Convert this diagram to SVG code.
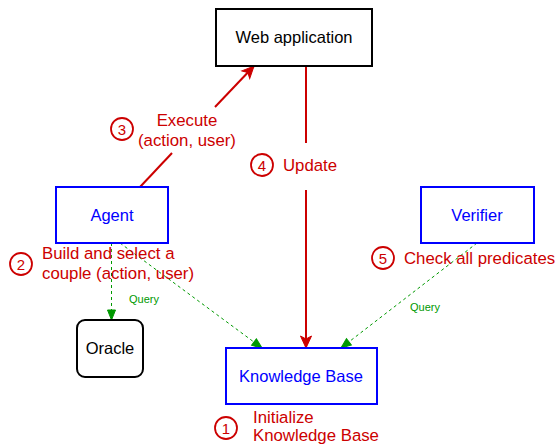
<svg xmlns="http://www.w3.org/2000/svg" width="555" height="445" viewBox="0 0 555 445">
<defs>
<style>
text{font-family:"Liberation Sans",Arial,sans-serif}
.node{fill:#fff;stroke-width:2}
.blue{stroke:#0000FF}
.black{stroke:#000}
.nl{font-size:16.5px;text-anchor:middle}
.red{fill:#CC0000;font-size:16.8px}
.num{fill:#CC0000;font-size:15px;text-anchor:middle}
.circ{fill:none;stroke:#CC0000;stroke-width:1.8}
.rl{stroke:#CC0000;stroke-width:2;fill:none}
.gl{stroke:#009900;stroke-width:1;stroke-dasharray:3 3;fill:none}
.q{fill:#009900;font-size:11px}
</style>
<marker id="ra" markerUnits="userSpaceOnUse" markerWidth="14" markerHeight="14" viewBox="0 0 14 14" refX="13" refY="7" orient="auto">
<path d="M1,1.5 L13,7 L1,12.5 L4,7 Z" fill="#CC0000" stroke="#CC0000" stroke-width="1"/>
</marker>
<marker id="ga" markerUnits="userSpaceOnUse" markerWidth="12" markerHeight="12" viewBox="0 0 12 12" refX="11" refY="6" orient="auto">
<path d="M1,2 L11,6 L1,10 Z" fill="#009900" stroke="#009900" stroke-width="1"/>
</marker>
</defs>
<rect width="555" height="445" fill="#fff"/>
<g id="connectors">
<line class="rl" x1="140" y1="187" x2="172" y2="153"/>
<line class="rl" x1="215" y1="107" x2="254" y2="66" marker-end="url(#ra)"/>
<line class="rl" x1="306" y1="66" x2="306" y2="143"/>
<line class="rl" x1="306" y1="190" x2="306" y2="348" marker-end="url(#ra)"/>
<line class="gl" x1="111.5" y1="243" x2="111.5" y2="320" marker-end="url(#ga)"/>
<line class="gl" x1="120" y1="243" x2="262" y2="348" marker-end="url(#ga)"/>
<line class="gl" x1="477" y1="243" x2="341" y2="348" marker-end="url(#ga)"/>
<text class="q" x="129" y="303">Query</text>
<text class="q" x="410" y="311">Query</text>
</g>
<g id="webapp">
<rect class="node black" x="216" y="9" width="156" height="57"/>
<text class="nl" x="294" y="43" fill="#000">Web application</text>
</g>
<g id="agent">
<rect class="node blue" x="56" y="187" width="112" height="56"/>
<text class="nl" x="112" y="221" fill="#0000FF">Agent</text>
</g>
<g id="verifier">
<rect class="node blue" x="421" y="187" width="113" height="56"/>
<text class="nl" x="477" y="221" fill="#0000FF">Verifier</text>
</g>
<g id="oracle">
<rect class="node black" x="77" y="320" width="66" height="57" rx="8"/>
<text class="nl" x="110" y="354" fill="#000">Oracle</text>
</g>
<g id="kb">
<rect class="node blue" x="226" y="348" width="151" height="56"/>
<text class="nl" x="301" y="382" fill="#0000FF">Knowledge Base</text>
</g>
<g id="labels">
<circle class="circ" cx="122" cy="129" r="11"/>
<text class="num" x="122" y="134.5">3</text>
<text class="red" x="187" y="126" text-anchor="middle">Execute</text>
<text class="red" x="187" y="146" text-anchor="middle">(action, user)</text>
<circle class="circ" cx="262" cy="165" r="11"/>
<text class="num" x="262" y="170.5">4</text>
<text class="red" x="283" y="171">Update</text>
<circle class="circ" cx="21" cy="264" r="11"/>
<text class="num" x="21" y="269.5">2</text>
<text class="red" x="42" y="259">Build and select a</text>
<text class="red" x="42" y="279">couple (action, user)</text>
<circle class="circ" cx="383" cy="258" r="11"/>
<text class="num" x="383" y="263.5">5</text>
<text class="red" x="404" y="264">Check all predicates</text>
<circle class="circ" cx="226" cy="428" r="11"/>
<text class="num" x="226" y="433.5">1</text>
<text class="red" x="253" y="422.5">Initialize</text>
<text class="red" x="253" y="441">Knowledge Base</text>
</g>
</svg>
